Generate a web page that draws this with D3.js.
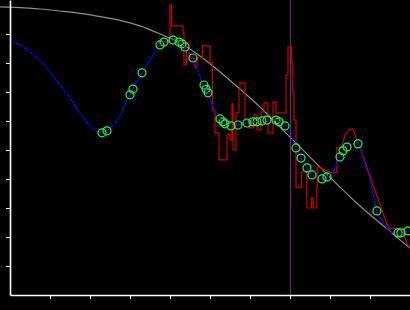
<!DOCTYPE html>
<html>
<head>
<meta charset="utf-8">
<script src="https://d3js.org/d3.v7.min.js"></script>
<style>
    html, body { margin: 0; padding: 0; background: #000; }
    svg { display: block; }
</style>
</head>
<body>
<div id="chart"></div>
<script>
// Prior mean curve (grey), [x, y]
const priorMean = [
    [-0.25, 9.93], [0.25, 9.91], [0.75, 9.86], [1.25, 9.79], [1.75, 9.71], [2.25, 9.60],
    [2.75, 9.47], [3.25, 9.28], [3.75, 9.00], [4.25, 8.69], [4.75, 8.24], [5.25, 7.69],
    [5.75, 7.10], [6.25, 6.48], [6.75, 5.79], [7.25, 5.10], [7.75, 4.41], [8.25, 3.72],
    [8.75, 3.07], [9.25, 2.48], [9.75, 1.90], [10, 1.62]
];

// Fitted mean (blue)
const fitMean = [
    [0, 8.79], [0.25, 8.62], [0.5, 8.38], [0.75, 8.10], [1, 7.69], [1.25, 7.24], [1.5, 6.79],
    [1.75, 6.28], [2, 5.83], [2.2, 5.62], [2.3, 5.59], [2.425, 5.66], [2.625, 5.93], [2.8, 6.31],
    [2.925, 6.72], [3, 6.90], [3.075, 7.10], [3.3, 7.66], [3.55, 8.21], [3.75, 8.62], [3.875, 8.72],
    [4.075, 8.79], [4.25, 8.69], [4.325, 8.66], [4.375, 8.55], [4.575, 8.17], [4.7, 7.76],
    [4.825, 7.24], [4.9, 7.14], [4.95, 6.97], [5.075, 6.48], [5.25, 6.07], [5.325, 5.97],
    [5.375, 5.90], [5.525, 5.83], [5.7, 5.86], [5.925, 5.93], [6.075, 5.97], [6.175, 5.97],
    [6.3, 6.00], [6.425, 6.03], [6.55, 6.03], [6.675, 6.00], [6.725, 5.97], [6.875, 5.83],
    [7.025, 5.48], [7.15, 5.07], [7.275, 4.72], [7.425, 4.38], [7.55, 4.14], [7.675, 4.03],
    [7.8, 4.00], [7.925, 4.07], [8.075, 4.24], [8.25, 4.76], [8.325, 4.97], [8.425, 5.10],
    [8.55, 5.21], [8.7, 5.21], [8.825, 4.72], [9, 3.97], [9.175, 2.90], [9.325, 2.52],
    [9.45, 2.24], [9.575, 2.14], [9.7, 2.14], [9.775, 2.14], [9.95, 2.21], [10, 2.21]
];

// Observed signal (red)
const observed = [
    [3.825, 8.72], [4, 8.72], [4, 10.0], [4.04, 10.0], [4.04, 9.28], [4.325, 9.28], [4.325, 9.03],
    [4.35, 9.03], [4.35, 7.93], [4.41, 7.93], [4.41, 8.69], [4.475, 8.69], [4.475, 8.17],
    [4.625, 8.17], [4.625, 7.83], [4.675, 7.83], [4.675, 8.17], [4.81, 8.17], [4.81, 8.59],
    [5, 8.59], [5, 8.00], [5.06, 8.00], [5.06, 6.38], [5.125, 6.38], [5.125, 5.59], [5.225, 5.59],
    [5.225, 4.66], [5.425, 4.66], [5.425, 5.52], [5.5, 5.52], [5.5, 5.34], [5.55, 5.34],
    [5.55, 6.59], [5.575, 6.59], [5.575, 5.00], [5.65, 5.00], [5.65, 6.28], [5.725, 6.28],
    [5.725, 7.07], [5.75, 7.07], [5.75, 7.31], [5.875, 7.31], [5.875, 6.03], [5.975, 6.03],
    [5.975, 5.76], [6.1, 5.76], [6.1, 6.21], [6.175, 6.21], [6.175, 5.69], [6.275, 5.69],
    [6.275, 6.31], [6.35, 6.31], [6.35, 6.62], [6.45, 6.62], [6.45, 5.59], [6.575, 5.59],
    [6.575, 6.66], [6.65, 6.66], [6.65, 6.28], [6.9, 6.28], [6.9, 7.59], [6.95, 7.59],
    [6.95, 8.55], [7.04, 8.55], [7.04, 8.03], [7.07, 8.03], [7.07, 7.00], [7.1, 7.00],
    [7.1, 6.03], [7.15, 6.03], [7.15, 3.72], [7.29, 3.72], [7.29, 4.24], [7.42, 4.24],
    [7.42, 3.00], [7.54, 3.00], [7.54, 3.34], [7.58, 3.34], [7.58, 3.00], [7.67, 3.00],
    [7.67, 3.72], [7.68, 3.72], [7.68, 4.41], [7.71, 4.41], [8.04, 4.21], [8.17, 4.21],
    [8.17, 5.07], [8.29, 5.07], [8.375, 5.52], [8.475, 5.69], [8.5, 5.72], [8.575, 5.72],
    [8.625, 5.52], [8.675, 5.28], [8.71, 5.23], [9.46, 2.30], [9.7, 2.30], [9.7, 2.17],
    [9.825, 2.14], [9.95, 1.72], [10, 1.62]
];

// Sample points (green circles)
const samples = [
    [2.3, 5.59], [2.425, 5.66], [3, 6.90], [3.075, 7.10], [3.3, 7.66], [3.75, 8.62], [3.85, 8.72],
    [4.075, 8.79], [4.225, 8.72], [4.3, 8.66], [4.375, 8.55], [4.575, 8.17], [4.85, 7.24],
    [4.9, 7.10], [4.95, 6.97], [5.25, 6.07], [5.325, 5.97], [5.375, 5.90], [5.525, 5.83],
    [5.7, 5.86], [5.925, 5.93], [6.075, 5.97], [6.175, 5.97], [6.3, 6.00], [6.425, 6.03],
    [6.65, 6.03], [6.725, 5.97], [6.875, 5.83], [7.15, 5.07], [7.275, 4.72], [7.425, 4.38],
    [7.55, 4.14], [7.8, 4.00], [7.925, 4.07], [8.25, 4.76], [8.325, 4.97], [8.425, 5.10],
    [8.7, 5.21], [9.175, 2.90], [9.7, 2.14], [9.775, 2.14], [9.95, 2.21]
];

// Current position marker (purple vertical)
const markerX = 7.02;

const xTicks = [1, 2, 3, 4, 5, 6, 7, 8, 9];
const yTicks = [1, 2, 3, 4, 5, 6, 7, 8, 9];

const width = 410;
const height = 310;

const x = d3.scaleLinear().domain([0, 10]).range([10, 410]);
const y = d3.scaleLinear().domain([0, 10.17]).range([295, 0]);

const svg = d3.select("#chart")
    .append("svg")
    .attr("width", width)
    .attr("height", height)
    .style("background", "#000");

// Draw a line from [x, y] pairs
function drawLine(data, color, curve, w, crisp) {
    const line = d3.line()
        .x(d => x(d[0]))
        .y(d => y(d[1]))
        .curve(curve);
    svg.append("path")
        .datum(data)
        .attr("fill", "none")
        .attr("stroke", color)
        .attr("stroke-width", w)
        .attr("shape-rendering", crisp ? "crispEdges" : "auto")
        .attr("d", line);
}

drawLine(priorMean, "#8e8e8e", d3.curveMonotoneX, 1.2, false);
drawLine(observed, "#cc0000", d3.curveLinear, 1.2, false);
drawLine(fitMean, "#0000ff", d3.curveMonotoneX, 1, true);

// Purple marker
svg.append("line")
    .attr("x1", x(markerX))
    .attr("x2", x(markerX))
    .attr("y1", y(10.17))
    .attr("y2", y(0))
    .attr("stroke", "#7a207a")
    .attr("stroke-width", 1)
    .attr("shape-rendering", "crispEdges");

// Sample circles
svg.selectAll(".sample")
    .data(samples)
    .enter().append("circle")
    .attr("class", "sample")
    .attr("cx", d => x(d[0]))
    .attr("cy", d => y(d[1]))
    .attr("r", 4)
    .attr("fill", "none")
    .attr("stroke", "#22ff22")
    .attr("stroke-width", 1.2);

svg.selectAll(".sample-dot")
    .data(samples)
    .enter().append("circle")
    .attr("class", "sample-dot")
    .attr("cx", d => x(d[0]))
    .attr("cy", d => y(d[1]))
    .attr("r", 0.8)
    .attr("fill", "#0000ff");

// Axes
const xAxis = svg.append("g")
    .attr("transform", "translate(0,295)")
    .call(d3.axisBottom(x).tickValues(xTicks).tickSize(4).tickSizeOuter(0).tickFormat(""));

const yAxis = svg.append("g")
    .attr("transform", "translate(10,0)")
    .call(d3.axisLeft(y).tickValues(yTicks).tickSize(4).tickSizeOuter(0).tickFormat(""));

[xAxis, yAxis].forEach(g => {
    g.select(".domain").attr("stroke", "#fff").attr("stroke-width", 1.6);
    g.selectAll(".tick line").attr("stroke", "#fff").attr("stroke-width", 1);
});
</script>
</body>
</html>
